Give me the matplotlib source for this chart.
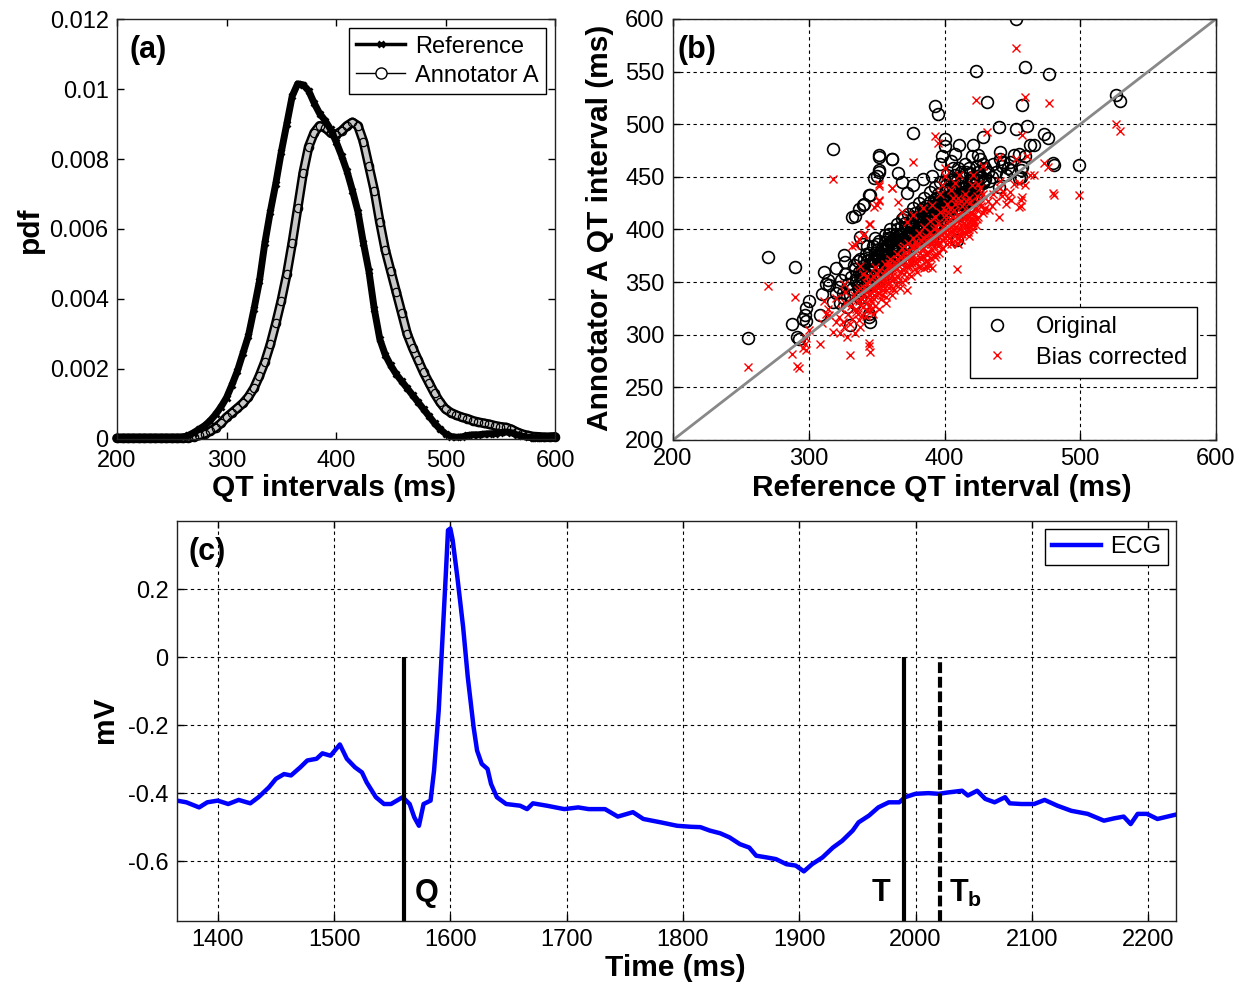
import numpy as np
import matplotlib
matplotlib.use("Agg")
import matplotlib.pyplot as plt
from matplotlib.lines import Line2D

plt.rcParams["font.family"] = ["Liberation Sans", "DejaVu Sans"]
plt.rcParams["mathtext.fontset"] = "custom"
plt.rcParams["mathtext.rm"] = "Liberation Sans"
plt.rcParams["mathtext.bf"] = "Liberation Sans:bold"
plt.rcParams["xtick.direction"] = "in"
plt.rcParams["ytick.direction"] = "in"

# ---- (a) pdf of QT intervals (pdf values in units of 1e-3) ----
qt_ms = [200, 205, 210, 215, 220, 225, 230, 235, 240, 245, 250, 255, 260, 265, 270, 275,
         280, 285, 290, 295, 300, 305, 310, 315, 320, 325, 330, 335, 340, 345, 350, 355,
         360, 365, 370, 375, 380, 385, 390, 395, 400, 405, 410, 415, 420, 425, 430, 435,
         440, 445, 450, 455, 460, 465, 470, 475, 480, 485, 490, 495, 500, 505, 510, 515,
         520, 525, 530, 535, 540, 545, 550, 555, 560, 565, 570, 575, 580, 585, 590, 595, 600]
pdf_reference = [0.02, 0.02, 0.02, 0.02, 0.02, 0.02, 0.02, 0.02, 0.02, 0.03, 0.03, 0.04, 0.05, 0.10, 0.18, 0.28,
                 0.38, 0.52, 0.70, 0.92, 1.18, 1.55, 1.95, 2.45, 2.95, 3.70, 4.50, 5.60, 6.50, 7.30, 8.20, 9.00,
                 9.80, 10.15, 10.12, 9.95, 9.60, 9.30, 9.10, 8.85, 8.50, 8.10, 7.65, 7.10, 6.50, 5.60, 4.80, 3.70,
                 2.85, 2.40, 2.10, 1.85, 1.65, 1.45, 1.25, 1.05, 0.85, 0.65, 0.45, 0.28, 0.15, 0.07, 0.05, 0.06,
                 0.10, 0.12, 0.12, 0.14, 0.15, 0.15, 0.18, 0.20, 0.18, 0.12, 0.08, 0.05, 0.04, 0.04, 0.05, 0.07, 0.05]
pdf_annotator = [0.02, 0.02, 0.02, 0.02, 0.02, 0.02, 0.02, 0.02, 0.02, 0.02, 0.02, 0.02, 0.02, 0.03, 0.06, 0.10,
                 0.15, 0.22, 0.32, 0.45, 0.62, 0.75, 0.88, 1.02, 1.20, 1.45, 1.80, 2.20, 2.70, 3.30, 3.95, 4.70,
                 5.60, 6.60, 7.60, 8.35, 8.75, 8.95, 8.90, 8.75, 8.70, 8.80, 8.95, 9.05, 8.95, 8.50, 7.80, 7.10,
                 6.20, 5.40, 4.80, 4.20, 3.60, 3.00, 2.60, 2.25, 1.90, 1.60, 1.30, 1.05, 0.85, 0.75, 0.68, 0.62,
                 0.58, 0.52, 0.48, 0.45, 0.42, 0.38, 0.35, 0.33, 0.28, 0.20, 0.14, 0.10, 0.07, 0.06, 0.05, 0.05, 0.06]

# ---- (b) reference QT vs annotator A QT (ms) ----
orig_points = [
    (255, 297), (270, 374), (290, 364), (288, 310), (291, 298), (293, 296), (300, 332), (298, 325),
    (297, 319), (298, 313), (308, 319), (311, 360), (314, 352), (315, 347), (310, 339), (320, 363),
    (326, 376), (327, 369), (330, 309), (345, 312), (344, 317), (318, 476), (332, 412), (340, 423),
    (338, 393), (340, 386), (344, 433), (348, 449), (352, 471), (352, 455), (361, 467), (377, 492),
    (393, 517), (395, 510), (397, 462), (400, 486), (400, 479), (408, 472), (411, 480), (421, 480),
    (425, 471), (426, 467), (428, 488), (423, 551), (431, 521), (440, 497), (453, 600), (453, 495),
    (457, 518), (459, 554), (461, 498), (463, 480), (466, 480), (473, 491), (476, 487), (477, 548),
    (480, 463), (481, 461), (499, 461), (526, 528), (529, 522), (455, 449), (441, 474), (443, 464),
    (441, 467), (448, 464), (449, 456), (451, 471), (455, 472), (457, 459), (459, 470), (435, 450),
    (438, 455), (442, 460), (445, 452), (433, 446), (447, 458), (436, 462), (432, 455),
    (352, 469), (361, 467), (352, 456), (350, 451), (366, 454), (369, 445), (345, 433), (334, 413),
    (337, 419), (341, 424), (372, 435), (377, 442), (384, 448), (391, 451),
    (398, 470), (405, 465), (415, 462), (420, 470), (410, 458), (424, 460), (402, 452), (406, 458),
    (412, 455), (418, 458), (425, 455), (430, 448), (428, 462),
    (322, 345), (324, 352), (325, 340), (327, 358), (329, 348), (331, 355), (332, 343), (334, 362),
    (335, 350), (336, 370), (338, 356), (339, 347), (340, 365), (341, 372), (342, 358), (343, 351),
    (344, 378), (345, 366), (346, 360), (347, 384), (348, 372), (349, 355), (350, 376), (351, 368),
    (352, 389), (353, 362), (354, 381), (355, 374), (356, 395), (357, 370), (358, 385), (359, 378),
    (360, 400), (361, 366), (362, 390), (363, 382), (364, 375), (365, 405), (366, 394), (367, 372),
    (368, 388), (369, 410), (370, 398), (371, 380), (372, 392), (373, 415), (374, 386), (375, 404),
    (376, 396), (377, 420), (378, 390), (379, 408), (380, 400), (381, 425), (382, 393), (383, 412),
    (384, 403), (385, 430), (386, 398), (387, 418), (388, 407), (389, 436), (390, 401), (391, 422),
    (392, 412), (393, 440), (394, 405), (395, 426), (396, 416), (397, 445), (398, 410), (399, 430),
    (400, 420), (401, 438), (402, 414), (403, 426), (404, 447), (405, 418), (406, 432), (407, 424),
    (408, 452), (409, 420), (410, 436), (411, 428), (412, 444), (413, 424), (414, 440), (415, 432),
    (416, 455), (417, 428), (418, 446), (419, 436), (420, 450), (421, 432), (422, 442), (424, 438),
    (426, 452), (428, 444), (430, 458),
    (330, 338), (333, 366), (337, 342), (342, 377), (346, 352), (350, 386), (354, 366), (358, 392),
    (362, 372), (366, 383), (370, 412), (374, 398), (378, 416), (382, 406), (386, 422), (390, 414),
    (394, 430), (398, 424), (402, 430), (406, 440), (410, 414), (414, 426), (418, 430), (364, 396),
    (368, 402), (372, 370), (376, 410), (380, 388), (384, 420), (388, 396), (392, 428), (396, 406),
    (400, 446), (404, 432), (408, 438), (412, 432), (416, 440), (420, 436), (356, 380), (360, 388),
    (348, 362), (352, 374), (344, 366), (340, 354), (336, 348), (326, 335), (320, 340), (323, 330),
    (328, 326), (334, 330), (338, 335), (313, 348), (318, 331), (345, 356), (391, 391), (387, 392),
    (385, 391), (389, 393), (409, 390), (412, 418), (415, 425), (418, 422), (421, 428), (409, 415),
    (440, 440), (456, 450), (456, 456), (344, 320), (296, 315),
    (335, 352), (337, 360), (339, 362), (341, 360), (343, 370), (345, 362), (347, 370), (349, 378),
    (351, 372), (353, 380), (355, 370), (357, 384), (359, 372), (361, 384), (363, 392), (365, 384),
    (367, 396), (369, 390), (371, 402), (373, 394), (375, 398), (377, 404), (379, 396), (381, 410),
    (383, 400), (385, 414), (387, 404), (389, 418), (391, 408), (393, 420), (395, 412), (397, 424),
    (399, 418), (401, 428), (403, 420), (405, 430), (407, 428), (409, 436), (411, 424), (413, 436),
    (415, 440), (417, 434), (419, 444), (421, 438), (423, 448), (425, 440), (427, 450), (429, 446),
    (346, 372), (348, 366), (350, 380), (352, 368), (354, 376), (356, 388), (358, 376), (360, 392),
    (362, 380), (364, 390), (366, 378), (368, 396), (370, 386), (372, 400), (374, 392), (376, 402),
    (378, 398), (380, 412), (382, 402), (384, 410), (386, 406), (388, 414), (390, 420), (392, 404),
    (394, 416), (396, 426), (398, 418), (400, 426), (402, 422), (404, 438), (406, 426), (408, 430),
    (410, 442), (412, 428), (414, 434), (416, 430), (418, 440), (420, 444), (422, 436), (424, 446),
    (357, 364), (363, 370), (369, 378), (375, 384), (381, 392), (387, 398), (393, 402), (399, 410),
    (405, 414), (411, 420), (417, 426), (423, 432), (359, 396), (365, 400), (371, 406), (377, 412),
    (383, 418), (389, 426), (395, 434), (401, 442), (407, 446), (413, 450), (419, 454), (342, 346),
    (347, 348), (352, 352), (357, 358), (338, 372), (343, 384), (349, 392),
]
bias_ms = 28  # bias removed from annotator A, read from the shift of the red crosses

# ---- (c) ECG beat ----
ecg_time_ms = [1365, 1373, 1384, 1391, 1400, 1409, 1418, 1428, 1435, 1444, 1450, 1457, 1463, 1471,
               1477, 1485, 1490, 1497, 1505, 1511, 1518, 1524, 1528, 1536, 1543, 1549, 1555, 1559,
               1565, 1569, 1573, 1577, 1583, 1586, 1590, 1593, 1596, 1598, 1600, 1602, 1606, 1611,
               1615, 1620, 1623, 1627, 1632, 1635, 1640, 1648, 1660, 1666, 1671, 1683, 1698, 1710,
               1719, 1733, 1744, 1757, 1766, 1781, 1795, 1807, 1815, 1823, 1832, 1840, 1849, 1857,
               1863, 1872, 1880, 1889, 1897, 1904, 1911, 1920, 1929, 1937, 1946, 1951, 1960, 1968,
               1977, 1986, 1991, 2000, 2011, 2020, 2028, 2040, 2045, 2053, 2060, 2068, 2077, 2081,
               2091, 2102, 2111, 2122, 2134, 2148, 2162, 2171, 2179, 2185, 2191, 2199, 2208, 2224]
ecg_mv = [-0.422, -0.427, -0.442, -0.427, -0.422, -0.432, -0.420, -0.430, -0.412, -0.383, -0.358,
          -0.344, -0.348, -0.324, -0.304, -0.299, -0.283, -0.290, -0.257, -0.299, -0.324, -0.339,
          -0.368, -0.412, -0.432, -0.432, -0.420, -0.412, -0.432, -0.471, -0.496, -0.432, -0.422,
          -0.334, -0.157, 0.039, 0.236, 0.373, 0.378, 0.344, 0.236, 0.088, -0.059, -0.206, -0.275,
          -0.314, -0.329, -0.373, -0.412, -0.432, -0.437, -0.447, -0.430, -0.437, -0.447, -0.442,
          -0.447, -0.447, -0.469, -0.456, -0.476, -0.486, -0.496, -0.499, -0.500, -0.510, -0.518,
          -0.530, -0.550, -0.560, -0.584, -0.589, -0.594, -0.609, -0.613, -0.630, -0.609, -0.589,
          -0.560, -0.540, -0.510, -0.486, -0.466, -0.442, -0.427, -0.427, -0.412, -0.402, -0.400,
          -0.402, -0.398, -0.393, -0.407, -0.393, -0.417, -0.427, -0.412, -0.430, -0.432, -0.432,
          -0.420, -0.437, -0.452, -0.461, -0.481, -0.474, -0.469, -0.491, -0.461, -0.461, -0.476, -0.463]
mark_times = [1560, 1990, 2021]
mark_labels = ["Q", "T", r"$\mathbf{T_b}$"]
mark_styles = ["-", "-", (0, (2.6, 0.9))]
label_shift = [20, -20, 22]

TICK = 17
LAB = 21.5

fig = plt.figure(figsize=(12.45, 9.86), dpi=100)
ax_a = fig.add_axes([0.094, 0.5548, 0.3518, 0.4259])
ax_b = fig.add_axes([0.5406, 0.5538, 0.4361, 0.4270])
ax_c = fig.add_axes([0.1422, 0.0659, 0.8024, 0.4057])

for ax in (ax_a, ax_b, ax_c):
    ax.tick_params(top=True, right=True, length=5, width=1, labelsize=TICK, pad=6)
    for s in ax.spines.values():
        s.set_color("#222222")
        s.set_linewidth(1)
ax_a.tick_params(axis="x", pad=8)

# panel (a)
x = np.array(qt_ms)
ya = np.array(pdf_annotator) / 1000
yr = np.array(pdf_reference) / 1000
ax_a.plot(x, ya, color="k", lw=7, clip_on=False, solid_capstyle="round")
ax_a.plot(x, ya, color="#c8c8c8", lw=3.5, clip_on=False)
ax_a.plot(x, ya, "o", mfc="none", mec="k", ms=6, mew=0.9, clip_on=False)
ax_a.plot(x, yr, color="k", lw=5, marker="x", ms=5, mew=2, clip_on=False, solid_capstyle="round")
ax_a.set_xlim(200, 600)
ax_a.set_ylim(0, 0.012)
ax_a.set_xticks([200, 300, 400, 500, 600])
ax_a.set_yticks([0, 0.002, 0.004, 0.006, 0.008, 0.01, 0.012])
ax_a.set_yticklabels(["0", "0.002", "0.004", "0.006", "0.008", "0.01", "0.012"])
ax_a.set_xlabel("QT intervals (ms)", fontsize=LAB, fontweight="bold")
ax_a.set_ylabel("pdf", fontsize=LAB, fontweight="bold")
ax_a.xaxis.set_label_coords(0.495, -0.117)
ax_a.xaxis.label.set_va("center")
ax_a.yaxis.set_label_coords(-0.199, 0.498)
ax_a.yaxis.label.set_va("center")
ax_a.text(0.071, 0.926, "(a)", transform=ax_a.transAxes, fontsize=22, fontweight="bold",
          ha="center", va="center")
h_a = [Line2D([], [], color="k", lw=2.5, marker="x", ms=5, mew=2),
       Line2D([], [], color="k", lw=1, marker="o", mfc="white", ms=8)]
ax_a.legend(h_a, ["Reference", "Annotator A"], loc="upper right", fontsize=TICK,
            fancybox=False, edgecolor="k", framealpha=1, borderaxespad=0.4,
            handlelength=2.1, handletextpad=0.4, labelspacing=0.3, borderpad=0.3)

# panel (b)
px = np.array([p[0] for p in orig_points])
py = np.array([p[1] for p in orig_points])
ax_b.set_axisbelow(True)
ax_b.grid(True, linestyle=(0, (3, 3)), color="k", lw=0.8)
ax_b.plot(px, py, "o", mfc="none", mec="k", ms=8.5, mew=1.2, label="Original")
ax_b.plot(px, py - bias_ms, "x", color="red", ms=6, mew=1, label="Bias corrected")
ax_b.plot([200, 600], [200, 600], color="#888888", lw=2)
ax_b.set_xlim(200, 600)
ax_b.set_ylim(200, 600)
ax_b.set_xticks([200, 300, 400, 500, 600])
ax_b.set_yticks(range(200, 601, 50))
ax_b.set_xlabel("Reference QT interval (ms)", fontsize=LAB, fontweight="bold")
ax_b.set_ylabel("Annotator A QT interval (ms)", fontsize=LAB, fontweight="bold")
ax_b.xaxis.set_label_coords(0.495, -0.114)
ax_b.xaxis.label.set_va("center")
ax_b.yaxis.set_label_coords(-0.134, 0.504)
ax_b.yaxis.label.set_va("center")
ax_b.text(0.044, 0.926, "(b)", transform=ax_b.transAxes, fontsize=22, fontweight="bold",
          ha="center", va="center")
ax_b.legend(loc="lower right", bbox_to_anchor=(0.965, 0.147), borderaxespad=0, fontsize=TICK,
            fancybox=False, edgecolor="k", framealpha=1, handlelength=1.5, handletextpad=0.9,
            labelspacing=0.35, borderpad=0.4)

# panel (c)
ax_c.set_axisbelow(True)
ax_c.grid(True, linestyle=(0, (3, 3)), color="k", lw=0.8)
ax_c.plot(ecg_time_ms, ecg_mv, color="#0000ff", lw=3.2, label="ECG")
ax_c.set_xlim(1365, 2224)
ax_c.set_ylim(-0.776, 0.4)
bottom = ax_c.get_ylim()[0]
for t, lab, ls, dx in zip(mark_times, mark_labels, mark_styles, label_shift):
    ax_c.vlines(t, bottom, 0, colors="k", lw=3, linestyles=[ls])
    ax_c.text(t + dx, -0.694, lab, fontsize=22, fontweight="bold", ha="center", va="center")
ax_c.set_xticks(range(1400, 2201, 100))
ax_c.set_yticks([-0.6, -0.4, -0.2, 0, 0.2])
ax_c.set_yticklabels(["-0.6", "-0.4", "-0.2", "0", "0.2"])
ax_c.set_xlabel("Time (ms)", fontsize=LAB, fontweight="bold")
ax_c.set_ylabel("mV", fontsize=LAB, fontweight="bold")
ax_c.xaxis.set_label_coords(0.4985, -0.1175)
ax_c.xaxis.label.set_va("center")
ax_c.yaxis.set_label_coords(-0.072, 0.5025)
ax_c.yaxis.label.set_va("center")
ax_c.text(0.030, 0.9225, "(c)", transform=ax_c.transAxes, fontsize=22, fontweight="bold",
          ha="center", va="center")
ax_c.legend(loc="upper right", fontsize=TICK, fancybox=False, edgecolor="k", framealpha=1,
            borderaxespad=0.35, handlelength=2.1, handletextpad=0.35, borderpad=0.3)

fig.savefig("out.png", dpi=100)
